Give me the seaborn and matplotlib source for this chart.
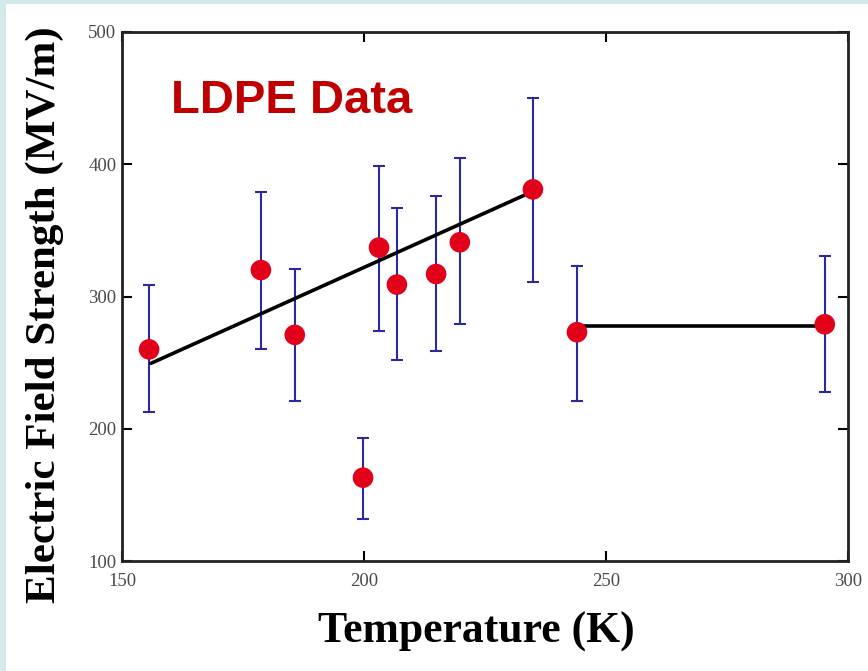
import matplotlib
matplotlib.use("Agg")
import matplotlib.pyplot as plt
import seaborn as sns
import pandas as pd
from matplotlib.patches import Rectangle

# Data
temperature = [155.6, 178.7, 185.7, 199.8, 203.1, 206.8, 214.9, 219.8, 234.9, 244.0, 295.2]
field_strength = [260, 320, 271, 163, 337, 309, 317, 341, 381, 273, 279]
err_upper = [309, 379, 321, 193, 399, 367, 376, 405, 450, 323, 331]
err_lower = [213, 260, 221, 132, 274, 252, 259, 279, 311, 221, 228]

fit1_t = [156.0, 234.9]
fit1_e = [249.5, 379.5]
fit2_t = [244.0, 295.2]
fit2_e = [278.0, 278.0]

x_ticks = [150, 200, 250, 300]
y_ticks = [100, 200, 300, 400, 500]

sns.set_theme(style="white")
plt.rcParams['font.family'] = ['Liberation Serif', 'DejaVu Serif']

fig = plt.figure(figsize=(8.68, 6.71), dpi=100)
fig.patch.set_facecolor('#d3e9ec')
fig.patches.append(Rectangle((6/868, 0), 1, 1 - 4/671, transform=fig.transFigure,
                             facecolor='white', edgecolor='none', zorder=-10))

ax = fig.add_axes([122/868, 1 - 561/671, 726/868, 529/671])
ax.set_zorder(5)
ax.set_facecolor('white')

df = pd.DataFrame({"T": temperature, "E": field_strength})
yerr = [[e - l for e, l in zip(field_strength, err_lower)],
        [u - e for u, e in zip(err_upper, field_strength)]]
ax.errorbar(temperature, field_strength, yerr=yerr, fmt='none', ecolor='#2a2aa0',
            elinewidth=1.5, capsize=4, capthick=1.5, zorder=2)

sns.lineplot(x=fit1_t, y=fit1_e, ax=ax, color='black', linewidth=2.6, zorder=3)
sns.lineplot(x=fit2_t, y=fit2_e, ax=ax, color='black', linewidth=2.6, zorder=3)

sns.scatterplot(data=df, x="T", y="E", ax=ax, color='#e3001b', s=220,
                edgecolor='none', zorder=4)

ax.set_xlim(150, 300)
ax.set_ylim(100, 500)
ax.set_xticks(x_ticks)
ax.set_yticks(y_ticks)
ax.set_xticklabels([str(v) for v in x_ticks])
ax.set_yticklabels([str(v) for v in y_ticks])
ax.tick_params(direction='in', length=7, width=1.5, colors='black',
               top=True, right=True, bottom=True, left=True,
               labelsize=13.5, labelcolor='#4a4a4a')
ax.tick_params(axis='x', pad=9)
ax.tick_params(axis='y', pad=4)
for sp in ax.spines.values():
    sp.set_color('#222222')
    sp.set_linewidth(2.0)

ax.set_xlabel("Temperature (K)", fontsize=31.5, fontweight='bold', color='black',
              va='center')
ax.set_ylabel("Electric Field Strength (MV/m)", fontsize=31, fontweight='bold',
              color='black', va='center')
ax.xaxis.set_label_coords(0.4876, -0.134)
ax.yaxis.set_label_coords(-0.106, 0.465)

ax.text(0.068, 0.87, "LDPE Data", transform=ax.transAxes, fontsize=34,
        fontweight='bold', color='#c00000', family=['Liberation Sans', 'DejaVu Sans'],
        va='center', ha='left')

fig.savefig("out.png", dpi=100, facecolor=fig.get_facecolor())
